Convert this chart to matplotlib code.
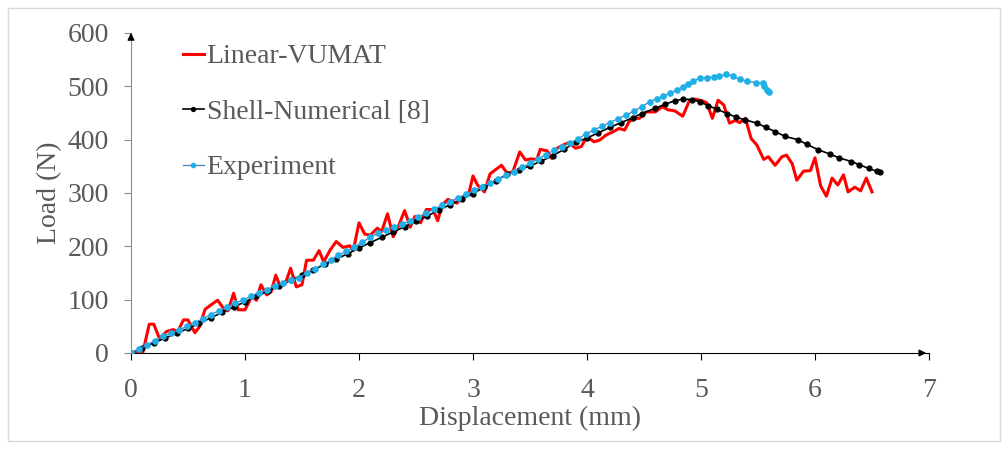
import matplotlib
matplotlib.use("Agg")
import matplotlib.pyplot as plt
from matplotlib.patches import Rectangle

# Linear-VUMAT (red)
vumat_x = [0.03, 0.105, 0.16, 0.2, 0.25, 0.31, 0.37, 0.41, 0.46, 0.5, 0.56, 0.6, 0.65, 0.7, 0.76,
           0.81, 0.85, 0.9, 0.94, 1.0, 1.06, 1.1, 1.14, 1.19, 1.23, 1.27, 1.31, 1.36, 1.4, 1.45,
           1.5, 1.54, 1.6, 1.65, 1.69, 1.75, 1.8, 1.86, 1.92, 1.95, 2.0, 2.05, 2.1, 2.16, 2.2,
           2.25, 2.3, 2.35, 2.4, 2.45, 2.49, 2.54, 2.59, 2.65, 2.69, 2.73, 2.78, 2.86, 2.91, 2.96,
           3.0, 3.04, 3.1, 3.15, 3.2, 3.25, 3.3, 3.35, 3.41, 3.46, 3.51, 3.56, 3.59, 3.65, 3.69,
           3.74, 3.79, 3.84, 3.9, 3.95, 4.0, 4.06, 4.11, 4.17, 4.23, 4.28, 4.33, 4.37, 4.42, 4.46,
           4.52, 4.6, 4.66, 4.71, 4.77, 4.84, 4.9, 4.95, 5.01, 5.05, 5.1, 5.15, 5.2, 5.25, 5.3,
           5.34, 5.39, 5.44, 5.49, 5.55, 5.59, 5.65, 5.71, 5.75, 5.8, 5.84, 5.9, 5.96, 6.0, 6.05,
           6.1, 6.15, 6.2, 6.25, 6.29, 6.35, 6.4, 6.45, 6.5]
vumat_y = [0, 2, 54, 54, 27, 40, 44, 40, 62, 62, 38, 49, 82, 90, 99,
           84, 79, 112, 81, 81, 106, 99, 128, 109, 115, 146, 124, 134, 159, 124,
           128, 174, 174, 192, 171, 194, 209, 198, 201, 192, 244, 223, 221, 234, 228,
           261, 218, 240, 267, 236, 256, 244, 269, 269, 248, 278, 288, 281, 293, 296,
           332, 315, 302, 336, 344, 352, 337, 340, 377, 362, 364, 363, 382, 379, 365,
           384, 390, 394, 384, 387, 406, 396, 399, 409, 415, 421, 418, 434, 440, 440,
           452, 452, 462, 456, 454, 444, 474, 476, 473, 469, 440, 474, 465, 431, 436,
           432, 440, 402, 390, 363, 368, 352, 368, 371, 355, 324, 341, 342, 366, 313,
           294, 328, 315, 334, 302, 311, 304, 328, 302]

# Shell-Numerical [8] (black)
shell_x = [0.0, 0.1, 0.2, 0.3, 0.4, 0.5, 0.6, 0.7, 0.8, 0.9, 1.0, 1.1, 1.2, 1.3, 1.4, 1.5, 1.6,
           1.7, 1.8, 1.9, 2.0, 2.1, 2.2, 2.3, 2.4, 2.5, 2.6, 2.7, 2.8, 2.9, 3.0, 3.1, 3.2, 3.3,
           3.4, 3.5, 3.6, 3.7, 3.8, 3.9, 4.0, 4.1, 4.2, 4.3, 4.4, 4.48, 4.6, 4.68, 4.77, 4.84,
           4.92, 4.99, 5.06, 5.14, 5.23, 5.31, 5.39, 5.49, 5.57, 5.65, 5.74, 5.85, 5.93, 6.03,
           6.13, 6.21, 6.32, 6.39, 6.47, 6.54, 6.57]
shell_y = [0, 10, 19, 28, 37, 46, 56, 66, 76, 86, 96, 106, 116, 126, 136, 146, 156,
           166, 176, 186, 197, 207, 217, 227, 237, 247, 257, 268, 278, 288, 299, 311, 323, 335,
           343, 351, 360, 370, 382, 395, 403, 413, 423, 432, 441, 449, 459, 466, 473, 476,
           475, 471, 464, 457, 449, 442, 437, 431, 423, 415, 406, 400, 391, 381,
           373, 366, 359, 353, 346, 341, 339]

# Experiment (blue)
exp_x = [0.0, 0.07, 0.14, 0.21, 0.28, 0.35, 0.42, 0.49, 0.56, 0.63, 0.70, 0.77, 0.84, 0.91,
         0.98, 1.05, 1.12, 1.19, 1.26, 1.33, 1.40, 1.47, 1.54, 1.61, 1.68, 1.75, 1.82, 1.89,
         1.96, 2.03, 2.10, 2.17, 2.24, 2.31, 2.38, 2.45, 2.52, 2.59, 2.66, 2.73, 2.80, 2.87,
         2.94, 3.01, 3.08, 3.15, 3.22, 3.29, 3.36, 3.43, 3.50, 3.57, 3.64, 3.71, 3.78, 3.85,
         3.92, 3.99, 4.06, 4.13, 4.20, 4.27, 4.34, 4.41, 4.48, 4.55, 4.61, 4.67, 4.73, 4.79,
         4.84, 4.89, 4.93, 4.99, 5.05, 5.11, 5.16, 5.22, 5.28, 5.34, 5.40, 5.48, 5.54, 5.55,
         5.58, 5.60]
exp_y = [0, 8, 15, 23, 31, 37, 43, 50, 57, 64, 72, 79, 86, 93,
         99, 106, 113, 119, 125, 131, 136, 141, 150, 158, 166, 174, 183, 191,
         199, 208, 217, 225, 231, 237, 242, 248, 255, 262, 270, 277, 284, 291,
         298, 305, 312, 319, 326, 333, 340, 348, 356, 364, 372, 380, 387, 394,
         401, 411, 418, 425, 432, 439, 446, 453, 462, 471, 477, 482, 487, 494,
         499, 504, 510, 515, 516, 518, 519, 523, 519, 513, 510, 507, 506, 500,
         494, 490]

x_ticks = [0, 1, 2, 3, 4, 5, 6, 7]
y_ticks = [0, 100, 200, 300, 400, 500, 600]

plt.rcParams['font.family'] = ['Liberation Serif', 'DejaVu Serif']
txt = '#595959'

fig = plt.figure(figsize=(10.05, 4.49), dpi=100)
ax = fig.add_axes([131/1005, 1 - 353/449, 798/1005, 320/449])

ax.plot(vumat_x, vumat_y, color='#ff0000', lw=2.2, label='Linear-VUMAT', zorder=2)
ax.plot(shell_x, shell_y, color='black', lw=1.2, marker='o', ms=3.5,
        label='Shell-Numerical [8]', zorder=3)
ax.plot(exp_x, exp_y, color='#4a7ebb', lw=0.9, marker='o', ms=3.8,
        mfc='#1fb0e8', mec='#1fb0e8', label='Experiment', zorder=4)

ax.set_xlim(0, 7)
ax.set_ylim(0, 600)
ax.set_xticks(x_ticks)
ax.set_yticks(y_ticks)
for s in ['top', 'right']:
    ax.spines[s].set_visible(False)
ax.spines['left'].set_color('#8c8c8c')
ax.spines['bottom'].set_color('black')
ax.tick_params(axis='x', direction='out', length=5, pad=13, labelsize=20,
               labelcolor=txt, color='black')
ax.tick_params(axis='y', direction='out', length=5, pad=11, labelsize=20,
               labelcolor=txt, color='#8c8c8c')

# arrow heads at axis ends
ax.annotate('', xy=(7.0, 0), xytext=(6.9, 0), xycoords='data',
            arrowprops=dict(arrowstyle='-|>', color='black', lw=1, mutation_scale=10),
            annotation_clip=False)
ax.annotate('', xy=(0, 600), xytext=(0, 590), xycoords='data',
            arrowprops=dict(arrowstyle='-|>', color='black', lw=1, mutation_scale=10),
            annotation_clip=False)

fig.text(530/1005, 1 - 418/449, 'Displacement (mm)', ha='center', va='center',
         fontsize=20, color=txt)
fig.text(50/1005, 1 - 193/449, 'Load (N)', ha='center', va='center',
         rotation=90, fontsize=20, color=txt)

leg = ax.legend(loc='upper left', bbox_to_anchor=(183/1005, 1 - 44/449),
                bbox_transform=fig.transFigure, frameon=False, fontsize=20,
                handlelength=0.75, handletextpad=0.1, labelspacing=1.08,
                borderpad=0, borderaxespad=0, markerscale=0.8)
for t in leg.get_texts():
    t.set_color(txt)

fig.patches.append(Rectangle((8/1005, 8/449), 992/1005, 433/449, transform=fig.transFigure,
                             fill=False, edgecolor='#d9d9d9', lw=1))

fig.savefig('out.png', dpi=100)
